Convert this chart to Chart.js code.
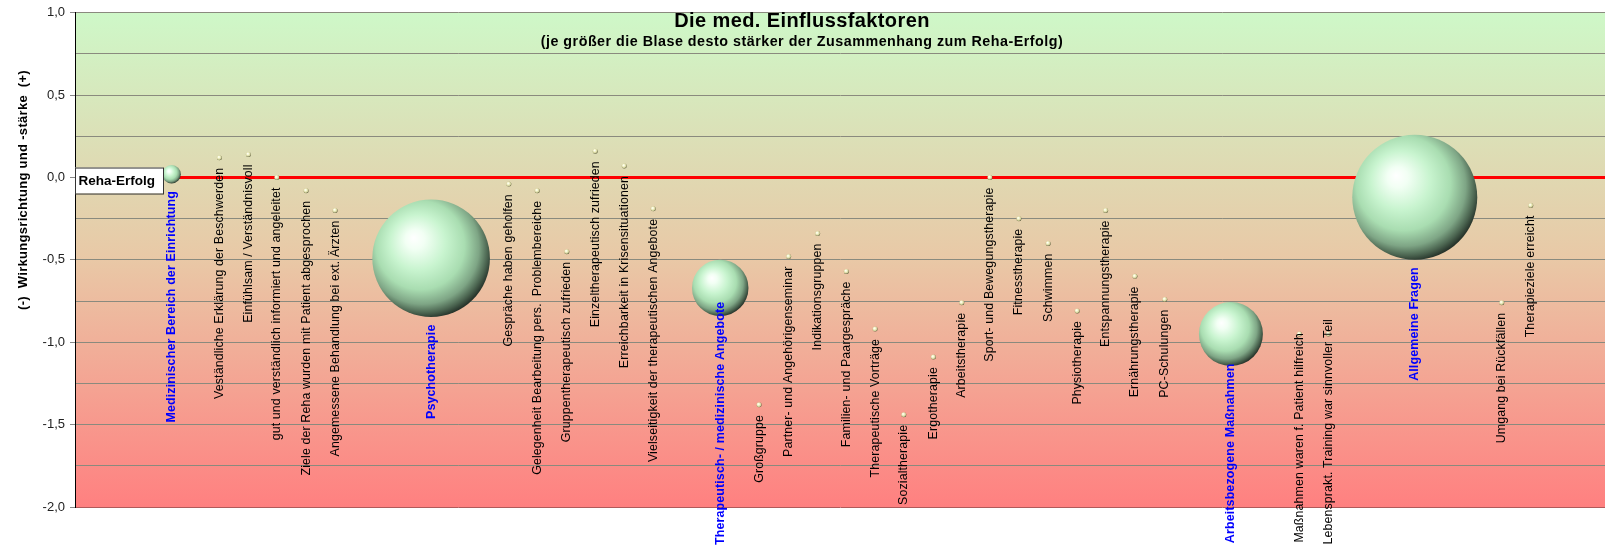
<!DOCTYPE html>
<html>
<head>
<meta charset="utf-8">
<script src="https://cdn.jsdelivr.net/npm/chart.js@4/dist/chart.umd.min.js"></script>
<style>
  html, body { margin: 0; padding: 0; background: #fff; }
  #wrap { width: 1605px; height: 546px; position: relative; }
</style>
</head>
<body>
<div id="wrap"><canvas id="einfluss-chart"></canvas></div>
<script>
const faktoren = [
  'Medizinischer Bereich der Einrichtung',
  'Veständliche Erklärung der Beschwerden',
  'Einfühlsam / Verständnisvoll',
  'gut und verständlich informiert und angeleitet',
  'Ziele der Reha wurden mit Patient abgesprochen',
  'Angemessene Behandlung bei ext. Ärzten',
  'Psychotherapie',
  'Gespräche haben geholfen',
  'Gelegenheit Bearbeitung pers.  Problembereiche',
  'Gruppentherapeutisch zufrieden',
  'Einzeltherapeutisch zufrieden',
  'Erreichbarkeit in Krisensituationen',
  'Vielseitigkeit der therapeutischen Angebote',
  'Therapeutisch- / medizinische Angebote',
  'Großgruppe',
  'Partner- und Angehörigenseminar',
  'Indikationsgruppen',
  'Familien- und Paargespräche',
  'Therapeutische Vorträge',
  'Sozialtherapie',
  'Ergotherapie',
  'Arbeitstherapie',
  'Sport- und Bewegungstherapie',
  'Fitnesstherapie',
  'Schwimmen',
  'Physiotherapie',
  'Entspannungstherapie',
  'Ernährungstherapie',
  'PC-Schulungen',
  'Arbeitsbezogene Maßnahmen',
  'Maßnahmen waren f. Patient hilfreich',
  'Lebensprakt. Training war sinnvoller Teil',
  'Allgemeine Fragen',
  'Umgang bei Rückfällen',
  'Therapieziele erreicht'
];

const bereiche = [
  'Medizinischer Bereich der Einrichtung',
  'Psychotherapie',
  'Therapeutisch- / medizinische Angebote',
  'Arbeitsbezogene Maßnahmen',
  'Allgemeine Fragen'
];

const position = [
  3.33, 4.98, 5.98, 6.96, 7.97, 8.97, 12.28, 14.96, 15.94, 16.96, 17.94, 18.94,
  19.94, 22.25, 23.59, 24.61, 25.61, 26.60, 27.59, 28.58, 29.60, 30.58, 31.55,
  32.55, 33.56, 34.56, 35.54, 36.55, 37.58, 39.86, 42.22, 43.22, 46.20, 49.20, 50.20
];

const wirkung = [
  0.02, 0.12, 0.14, 0.00, -0.08, -0.20, -0.49, -0.04, -0.08, -0.45, 0.16, 0.07,
  -0.19, -0.67, -1.38, -0.48, -0.34, -0.57, -0.92, -1.44, -1.09, -0.76, 0.00,
  -0.25, -0.40, -0.81, -0.20, -0.60, -0.74, -0.95, -0.95, -0.95, -0.12, -0.76, -0.17
];

const blasengroesse = [
  0.022, 0.0016, 0.0016, 0.0016, 0.0016, 0.0016, 0.885, 0.0016, 0.0016, 0.0016, 0.0016, 0.0016,
  0.0016, 0.204, 0.0016, 0.0016, 0.0016, 0.0016, 0.0016, 0.0016, 0.0016, 0.0016, 0.0016,
  0.0016, 0.0016, 0.0016, 0.0016, 0.0016, 0.0016, 0.262, 0.0016, 0.0016, 1.0, 0.0016, 0.0016
];

const X_MAX = 52.76;
const R_MAX = 62.5;

// manuell verschobene Beschriftungen (px nach oben)
const labelVersatz = {
  'Therapeutisch- / medizinische Angebote': -22,
  'Arbeitsbezogene Maßnahmen': -10,
  'Maßnahmen waren f. Patient hilfreich': -11,
  'Lebensprakt. Training war sinnvoller Teil': -25
};

const punkte = faktoren.map((name, i) => ({
  x: position[i],
  y: wirkung[i],
  r: R_MAX * Math.sqrt(blasengroesse[i])
}));

const kugel = (c) => {
  const chart = c.chart;
  const raw = c.raw;
  if (!raw || !chart.chartArea) return '#c9f3cd';
  const x = chart.scales.x.getPixelForValue(raw.x);
  const y = chart.scales.y.getPixelForValue(raw.y);
  const r = raw.r;
  const g = chart.ctx.createRadialGradient(x - 0.3 * r, y - 0.35 * r, 0, x - 0.12 * r, y - 0.15 * r, r * 1.18);
  if (r < 5) {
    g.addColorStop(0, '#ffffff');
    g.addColorStop(0.35, '#f7f7d2');
    g.addColorStop(0.75, '#cfcf98');
    g.addColorStop(1, '#5a5a3c');
  } else {
    g.addColorStop(0, '#ffffff');
    g.addColorStop(0.14, '#f2fff4');
    g.addColorStop(0.4, '#c8f4cf');
    g.addColorStop(0.64, '#a9ddb1');
    g.addColorStop(0.82, '#7ea585');
    g.addColorStop(0.93, '#4a634f');
    g.addColorStop(1, '#26332a');
  }
  return g;
};

const hintergrund = {
  id: 'hintergrund',
  beforeDraw(chart) {
    const { ctx, chartArea: a } = chart;
    const g = ctx.createLinearGradient(0, a.top, 0, a.bottom);
    g.addColorStop(0, 'rgb(206,248,200)');
    g.addColorStop(0.5, 'rgb(233,200,166)');
    g.addColorStop(1, 'rgb(255,128,128)');
    ctx.save();
    ctx.fillStyle = g;
    ctx.fillRect(a.left, a.top, a.right - a.left, a.bottom - a.top);
    ctx.restore();
  }
};

const beschriftung = {
  id: 'beschriftung',
  afterDatasetsDraw(chart) {
    const ctx = chart.ctx;
    const meta = chart.getDatasetMeta(0);
    ctx.save();
    meta.data.forEach((el, i) => {
      const name = faktoren[i];
      const bereich = bereiche.includes(name);
      const r = punkte[i].r;
      const y = el.y + r + 7.5 + (labelVersatz[name] || 0);
      ctx.save();
      ctx.translate(el.x, y);
      ctx.rotate(-Math.PI / 2);
      ctx.textAlign = 'right';
      ctx.textBaseline = 'middle';
      ctx.letterSpacing = bereich ? '0.1px' : '0.12px';
      ctx.font = bereich ? 'bold 12.5px "Liberation Sans", Arial' : '12.4px "Liberation Sans", Arial';
      ctx.fillStyle = bereich ? '#0000ff' : '#000000';
      ctx.fillText(name, 0, 0);
      ctx.restore();
    });
    ctx.restore();
  },
  afterDraw(chart) {
    const { ctx, chartArea: a } = chart;
    const y0 = chart.scales.y.getPixelForValue(0);
    ctx.save();
    // Reha-Erfolg Kasten
    ctx.fillStyle = '#ffffff';
    ctx.fillRect(a.left, y0 - 10, 88, 26);
    ctx.strokeStyle = '#333333';
    ctx.lineWidth = 1;
    ctx.strokeRect(a.left + 0.5, y0 - 9.5, 88, 26);
    ctx.fillStyle = '#000';
    ctx.font = 'bold 13.5px "Liberation Sans", Arial';
    ctx.textAlign = 'left';
    ctx.textBaseline = 'middle';
    ctx.fillText('Reha-Erfolg', a.left + 3.5, y0 + 3.5);

    // Titel
    ctx.textAlign = 'center';
    ctx.letterSpacing = '0.4px';
    ctx.font = 'bold 20px "Liberation Sans", Arial';
    ctx.fillText('Die med. Einflussfaktoren', 802, 21);
    ctx.letterSpacing = '0.5px';
    ctx.font = 'bold 14.3px "Liberation Sans", Arial';
    ctx.fillText('(je größer die Blase desto stärker der Zusammenhang zum Reha-Erfolg)', 802, 42);

    // Achsentitel
    ctx.translate(23, 190);
    ctx.rotate(-Math.PI / 2);
    ctx.letterSpacing = '0.3px';
    ctx.font = 'bold 13px "Liberation Sans", Arial';
    ctx.fillText('(-)  Wirkungsrichtung und -stärke  (+)', 0, 0);
    ctx.restore();
  }
};

const container = document.getElementById('einfluss-chart').getContext('2d');

const chart = new Chart(container, {
  type: 'bubble',
  data: {
    datasets: [
      {
        label: 'Einflussfaktoren',
        data: punkte,
        backgroundColor: kugel,
        borderWidth: 0,
        order: 1,
      },
      {
        type: 'line',
        label: 'Reha-Erfolg',
        data: [{ x: position[0], y: 0 }, { x: X_MAX, y: 0 }],
        borderColor: '#ff0000',
        borderWidth: 3,
        pointRadius: 0,
        order: 2,
      }
    ]
  },
  options: {
    responsive: true,
    maintainAspectRatio: false,
    animation: false,
    events: [],
    layout: {
      autoPadding: false,
      padding: { top: 10, bottom: 39, left: 0, right: 0 }
    },
    plugins: {
      legend: { display: false },
      tooltip: { enabled: false },
    },
    scales: {
      x: {
        type: 'linear',
        display: false,
        min: 0,
        max: X_MAX,
      },
      y: {
        min: -2,
        max: 1,
        afterFit: (scale) => { scale.width = 75; },
        border: { display: true, color: '#000000', width: 1 },
        grid: {
          color: (c) => c.tick && c.tick.value === -2 ? '#b05a5a' : '#8a8a7e',
          tickLength: 5,
          tickColor: (c) => (Math.abs(c.tick.value * 2 - Math.round(c.tick.value * 2)) < 1e-6 ? '#888888' : 'rgba(0,0,0,0)'),
        },
        ticks: {
          stepSize: 0.25,
          padding: 5,
          color: '#222222',
          font: { family: '"Liberation Sans", Arial', size: 13 },
          callback: (v) => (Math.abs(v * 2 - Math.round(v * 2)) < 1e-6 ? v.toFixed(1).replace('.', ',') : ''),
        }
      }
    }
  },
  plugins: [hintergrund, beschriftung]
});
</script>
</body>
</html>
